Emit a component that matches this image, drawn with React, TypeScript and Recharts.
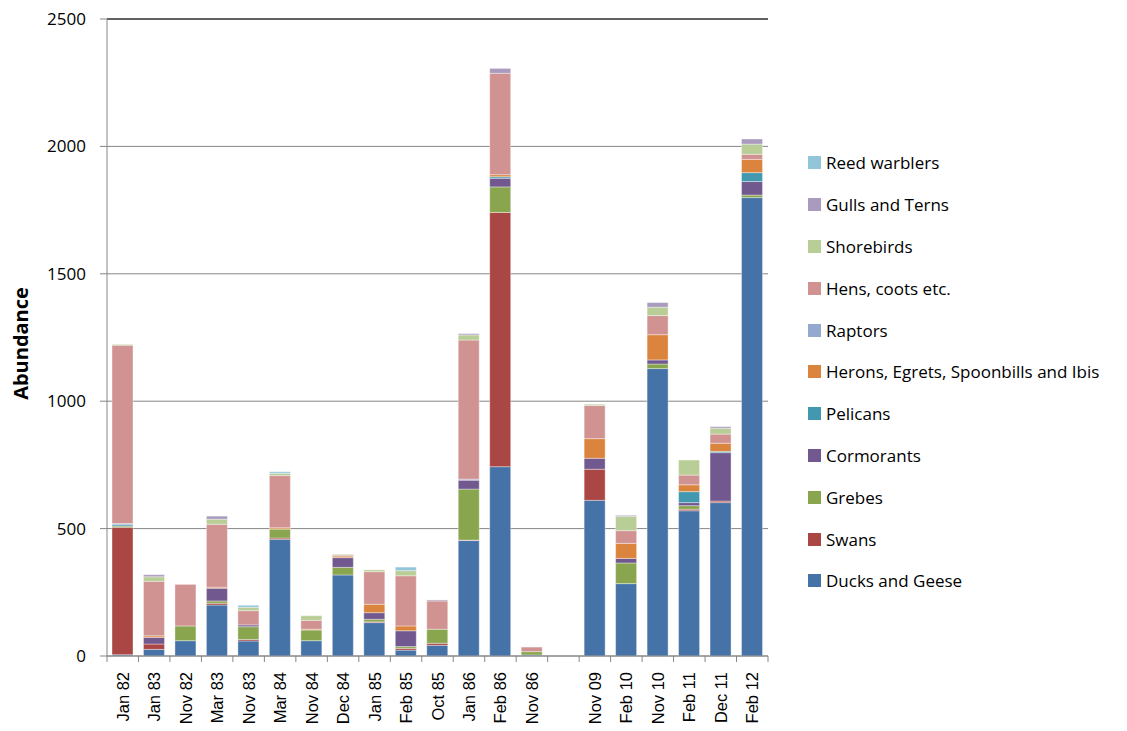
import React from "react";
import { BarChart, Bar, XAxis, YAxis, CartesianGrid, Legend, ReferenceLine } from "recharts";

const categories = [
  "Jan 82", "Jan 83", "Nov 82", "Mar 83", "Nov 83", "Mar 84", "Nov 84",
  "Dec 84", "Jan 85", "Feb 85", "Oct 85", "Jan 86", "Feb 86", "Nov 86",
  "", "Nov 09", "Feb 10", "Nov 10", "Feb 11", "Dec 11", "Feb 12"
];

const ducksGeese = [5, 26, 60, 200, 59, 458, 60, 318, 131, 23, 42, 453, 743, 4, null, 611, 284, 1128, 570, 602, 1799];
const swans = [500, 21, 0, 7, 6, 5, 0, 0, 3, 7, 8, 2, 998, 0, null, 122, 0, 0, 6, 6, 0];
const grebes = [5, 0, 58, 9, 50, 35, 42, 30, 10, 7, 55, 200, 100, 13, null, 0, 81, 18, 14, 0, 10];
const cormorants = [0, 26, 0, 50, 7, 0, 0, 38, 26, 62, 0, 35, 34, 0, null, 43, 18, 16, 12, 190, 53];
const pelicans = [5, 0, 0, 0, 0, 0, 0, 0, 0, 0, 0, 0, 6, 0, null, 0, 0, 0, 43, 5, 35];
const herons = [0, 6, 0, 4, 0, 5, 3, 6, 33, 19, 0, 0, 8, 0, null, 77, 59, 99, 27, 32, 52];
const raptors = [5, 0, 0, 0, 0, 0, 0, 0, 0, 0, 0, 4, 0, 0, null, 0, 0, 0, 0, 0, 0];
const hens = [700, 214, 163, 247, 56, 205, 35, 4, 128, 197, 111, 546, 398, 18, null, 130, 50, 75, 38, 36, 20];
const shorebirds = [3, 18, 0, 20, 13, 9, 18, 3, 7, 20, 0, 20, 0, 0, null, 5, 56, 33, 59, 23, 40];
const gulls = [0, 8, 0, 12, 0, 0, 0, 0, 0, 0, 4, 5, 19, 0, null, 0, 4, 18, 0, 6, 20];
const reedWarblers = [0, 0, 0, 0, 8, 6, 0, 0, 0, 14, 0, 0, 0, 0, null, 0, 0, 0, 0, 0, 0];

const yTicks = [0, 500, 1000, 1500, 2000, 2500];

// bottom to top stacking order
const series = [
  { key: "ducks", name: "Ducks and Geese", color: "#4572A7", values: ducksGeese },
  { key: "swans", name: "Swans", color: "#AA4643", values: swans },
  { key: "grebes", name: "Grebes", color: "#89A54E", values: grebes },
  { key: "cormorants", name: "Cormorants", color: "#71588F", values: cormorants },
  { key: "pelicans", name: "Pelicans", color: "#4198AF", values: pelicans },
  { key: "herons", name: "Herons, Egrets, Spoonbills and Ibis", color: "#DB843D", values: herons },
  { key: "raptors", name: "Raptors", color: "#93A9CF", values: raptors },
  { key: "hens", name: "Hens, coots etc.", color: "#D19392", values: hens },
  { key: "shorebirds", name: "Shorebirds", color: "#B9CD96", values: shorebirds },
  { key: "gulls", name: "Gulls and Terns", color: "#A99BBD", values: gulls },
  { key: "reed", name: "Reed warblers", color: "#92C5D8", values: reedWarblers }
];

const data = categories.map((category, i) => {
  const row: any = { category };
  series.forEach((s) => {
    row[s.key] = s.values[i];
  });
  return row;
});

const AXIS_GREY = "#868686";

const XTick = (props: any) => {
  const { x, y, payload, index } = props;
  const half = payload.offset || 0;
  const axisY = y - 8;
  return (
    <g>
      <line x1={x - half} x2={x - half} y1={axisY} y2={axisY + 6} stroke={AXIS_GREY} />
      {index === categories.length - 1 && (
        <line x1={x + half} x2={x + half} y1={axisY} y2={axisY + 6} stroke={AXIS_GREY} />
      )}
      <text
        x={x}
        y={y + 8}
        transform={`rotate(-90, ${x}, ${y + 8})`}
        textAnchor="end"
        dominantBaseline="central"
        fontFamily="'Liberation Sans', Arial, sans-serif"
        fontSize={16.5}
        fill="#000"
      >
        {payload.value}
      </text>
    </g>
  );
};

const LegendBox = () => (
  <div style={{ fontFamily: "'Open Sans', sans-serif", fontSize: 17, color: "#000" }}>
    {[...series].reverse().map((s) => (
      <div key={s.key} style={{ display: "flex", alignItems: "center", height: 41.8 }}>
        <span style={{ width: 13, height: 13, background: s.color, marginRight: 5, display: "inline-block" }} />
        <span style={{ whiteSpace: "nowrap" }}>{s.name}</span>
      </div>
    ))}
  </div>
);

export default function App() {
  return (
    <BarChart
      width={1110}
      height={723}
      data={data}
      margin={{ top: 11, right: 350, bottom: 13, left: 0 }}
      barSize={21}
    >
      <CartesianGrid vertical={false} stroke={AXIS_GREY} />
      <XAxis
        dataKey="category"
        interval={0}
        height={62}
        axisLine={{ stroke: AXIS_GREY }}
        tickLine={false}
        tickSize={6}
        tickMargin={2}
        tick={<XTick />}
      />
      <YAxis
        domain={[0, 2500]}
        ticks={yTicks}
        width={99}
        axisLine={{ stroke: AXIS_GREY }}
        tickLine={{ stroke: AXIS_GREY }}
        tickSize={7}
        tickMargin={14}
        tick={{ fill: "#000", fontSize: 17, fontFamily: "'Open Sans', sans-serif" }}
        label={{
          content: ({ viewBox }: any) => {
            const cx = viewBox.x + 12;
            const cy = viewBox.y + viewBox.height / 2 + 6;
            return (
              <text
                x={cx}
                y={cy}
                transform={`rotate(-90, ${cx}, ${cy})`}
                textAnchor="middle"
                dominantBaseline="central"
                fontFamily="'Open Sans', sans-serif"
                fontWeight="bold"
                fontSize={20}
                fill="#000"
              >
                Abundance
              </text>
            );
          }
        }}
      />
      <YAxis
        yAxisId="right"
        orientation="right"
        domain={[0, 2500]}
        width={0}
        tick={false}
        tickLine={false}
        axisLine={{ stroke: "#000" }}
      />
      <ReferenceLine y={2500} stroke="#000" ifOverflow="extendDomain" />
      <Legend
        layout="vertical"
        align="center"
        verticalAlign="middle"
        wrapperStyle={{ left: 800, top: 134, width: 320 }}
        content={<LegendBox />}
      />
      {series.map((s) => (
        <Bar
          key={s.key}
          dataKey={s.key}
          name={s.name}
          stackId="a"
          fill={s.color}
          stroke="#ffffff"
          strokeOpacity={0.5}
          strokeWidth={0.75}
          isAnimationActive={false}
        />
      ))}
    </BarChart>
  );
}
